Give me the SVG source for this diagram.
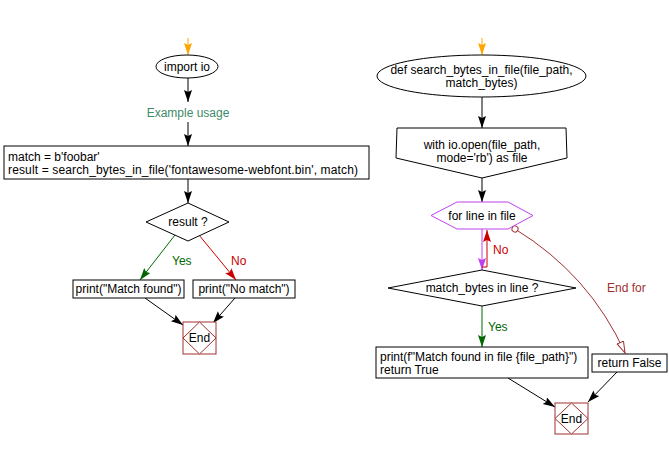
<svg xmlns="http://www.w3.org/2000/svg" width="669" height="449" viewBox="0 0 669 449">
<style>
text{font-family:"Liberation Sans",Arial,sans-serif;font-size:12px;fill:#000}
.c{text-anchor:middle}
.n{fill:#fff;stroke:#000;stroke-width:1}
.e{fill:#fff;stroke:#a03030;stroke-width:1}
.l{fill:none;stroke:#000;stroke-width:1}
</style>
<defs>
<marker id="ab" markerUnits="userSpaceOnUse" markerWidth="14" markerHeight="10" refX="12" refY="4" orient="auto"><path d="M0,0 L12,4 L0,8 L2,4 z" fill="#000"/></marker>
<marker id="ao" markerUnits="userSpaceOnUse" markerWidth="14" markerHeight="10" refX="12" refY="4" orient="auto"><path d="M0,0 L12,4 L0,8 L2,4 z" fill="#ffa500"/></marker>
<marker id="ag" markerUnits="userSpaceOnUse" markerWidth="14" markerHeight="10" refX="12" refY="4" orient="auto"><path d="M0,0 L12,4 L0,8 L2,4 z" fill="#006600"/></marker>
<marker id="ar" markerUnits="userSpaceOnUse" markerWidth="14" markerHeight="10" refX="12" refY="4" orient="auto"><path d="M0,0 L12,4 L0,8 L2,4 z" fill="#cc0000"/></marker>
<marker id="ap" markerUnits="userSpaceOnUse" markerWidth="14" markerHeight="10" refX="12" refY="4" orient="auto"><path d="M0,0 L12,4 L0,8 L2,4 z" fill="#c040f0"/></marker>
<marker id="aopen" markerUnits="userSpaceOnUse" markerWidth="14" markerHeight="10" refX="12" refY="4" orient="auto"><path d="M0.5,0.5 L12,4 L0.5,7.5 z" fill="#fff" stroke="#a03030"/></marker>
<marker id="dot" markerUnits="userSpaceOnUse" markerWidth="8" markerHeight="8" refX="4" refY="4" orient="auto"><circle cx="4" cy="4" r="3" fill="#fff" stroke="#a03030"/></marker>
</defs>

<g id="connectors">
<line x1="188" y1="38" x2="188" y2="55" stroke="#ffa500" marker-end="url(#ao)"/>
<line class="l" x1="188" y1="78" x2="188" y2="102" marker-end="url(#ab)"/>
<line class="l" x1="188" y1="122" x2="188" y2="146" marker-end="url(#ab)"/>
<line class="l" x1="188" y1="179" x2="188" y2="203" marker-end="url(#ab)"/>
<line x1="175" y1="235" x2="140" y2="280" stroke="#006600" marker-end="url(#ag)"/>
<line x1="199" y1="235" x2="236" y2="280" stroke="#cc0000" marker-end="url(#ar)"/>
<line class="l" x1="145" y1="298" x2="183" y2="325" marker-end="url(#ab)"/>
<line class="l" x1="235" y1="298" x2="213" y2="323" marker-end="url(#ab)"/>
<text x="172" y="265" style="fill:#006600">Yes</text>
<text x="231" y="265" style="fill:#cc0000">No</text>

<line x1="482" y1="38" x2="482" y2="55" stroke="#ffa500" marker-end="url(#ao)"/>
<line class="l" x1="482" y1="97" x2="482" y2="128" marker-end="url(#ab)"/>
<line class="l" x1="482" y1="178" x2="482" y2="202" marker-end="url(#ab)"/>
<line x1="482" y1="229" x2="482" y2="270" stroke="#c040f0" marker-end="url(#ap)"/>
<path d="M482,267 L487,267 L487,230" fill="none" stroke="#cc0000" marker-end="url(#ar)"/>
<line x1="482" y1="306" x2="482" y2="347" stroke="#006600" marker-end="url(#ag)"/>
<path d="M515,229 Q590,275 625,353" fill="none" stroke="#a03030" marker-start="url(#dot)" marker-end="url(#aopen)"/>
<line class="l" x1="508" y1="378" x2="555" y2="407" marker-end="url(#ab)"/>
<line class="l" x1="617" y1="372" x2="588" y2="402" marker-end="url(#ab)"/>
<text x="493" y="254" style="fill:#cc0000">No</text>
<text x="488" y="331" style="fill:#006600">Yes</text>
<text x="607" y="292" style="fill:#a03030">End for</text>
</g>

<g id="import_io">
<ellipse class="n" cx="187" cy="66.5" rx="31" ry="11.5"/>
<text class="c" x="187" y="71">import io</text>
</g>
<g id="example_usage">
<text class="c" x="188" y="117" style="fill:#3f8a6a">Example usage</text>
</g>
<g id="assign">
<rect class="n" x="4" y="146" width="365" height="33"/>
<text x="8" y="161">match = b'foobar'</text>
<text x="8" y="174" textLength="350" lengthAdjust="spacing">result = search_bytes_in_file('fontawesome-webfont.bin', match)</text>
</g>
<g id="result_q">
<polygon class="n" points="188,203 229,222 188,241 146,222"/>
<text class="c" x="188" y="226">result ?</text>
</g>
<g id="print_found">
<rect class="n" x="73" y="280" width="111" height="18"/>
<text class="c" x="128.5" y="293">print("Match found")</text>
</g>
<g id="print_nomatch">
<rect class="n" x="193" y="280" width="102" height="18"/>
<text class="c" x="244" y="293">print("No match")</text>
</g>
<g id="end_left">
<rect class="e" x="183" y="322" width="33" height="32"/>
<polygon class="e" points="199.5,322 216,338 199.5,354 183,338"/>
<text class="c" x="199.5" y="342">End</text>
</g>

<g id="def_func">
<ellipse class="n" cx="481.5" cy="76" rx="104.5" ry="21"/>
<text class="c" x="481.5" y="74">def search_bytes_in_file(file_path,</text>
<text class="c" x="481.5" y="87">match_bytes)</text>
</g>
<g id="with_open">
<polygon class="n" points="397,128 566,128 567,158 482,178 396,158"/>
<text class="c" x="482" y="149">with io.open(file_path,</text>
<text class="c" x="482" y="162">mode='rb') as file</text>
</g>
<g id="for_loop">
<polygon points="457,202 508,202 533,215.5 508,229 457,229 431,215.5" fill="#fff" stroke="#c040f0"/>
<text class="c" x="482" y="220">for line in file</text>
</g>
<g id="match_q">
<polygon class="n" points="482,270 576,288 482,306 388,288"/>
<text class="c" x="482" y="292">match_bytes in line ?</text>
</g>
<g id="print_return">
<rect class="n" x="376" y="347" width="212" height="31"/>
<text x="380" y="361">print(f"Match found in file {file_path}")</text>
<text x="380" y="374">return True</text>
</g>
<g id="return_false">
<rect class="n" x="592" y="354" width="75" height="18"/>
<text class="c" x="629.5" y="367">return False</text>
</g>
<g id="end_right">
<rect class="e" x="555" y="403" width="33" height="31"/>
<polygon class="e" points="571.5,403 588,418.5 571.5,434 555,418.5"/>
<text class="c" x="571.5" y="423">End</text>
</g>
</svg>
